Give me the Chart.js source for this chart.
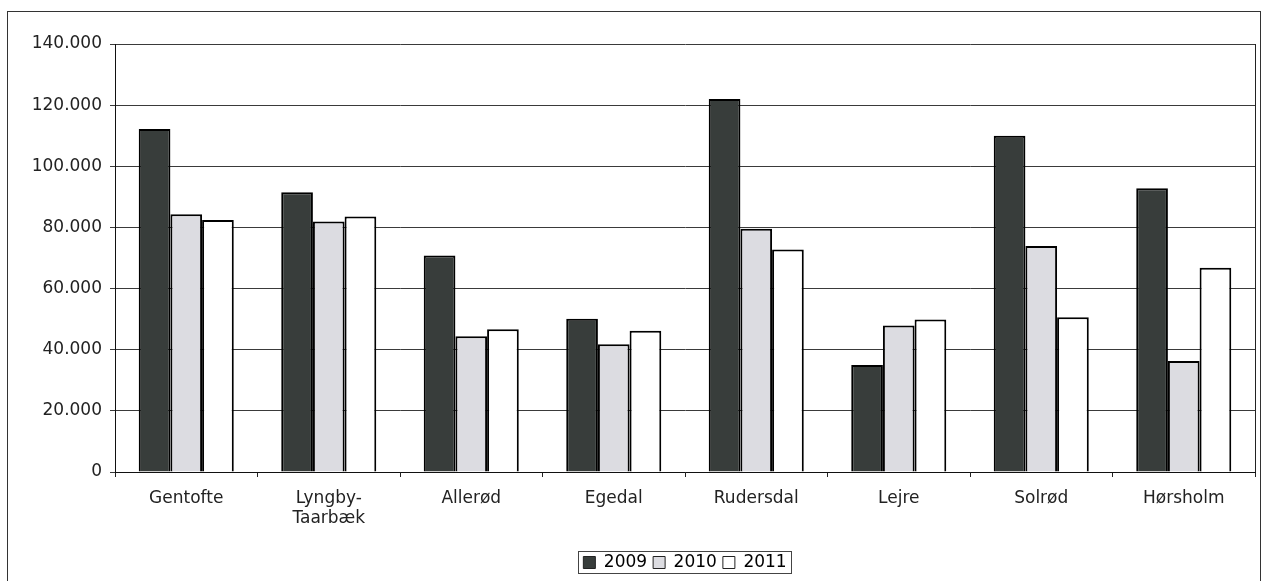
<!DOCTYPE html>
<html>
<head>
<meta charset="utf-8">
<script src="https://cdn.jsdelivr.net/npm/chart.js@4/dist/chart.umd.min.js"></script>
<style>
  html, body { margin: 0; padding: 0; background: #fff; }
  #wrap { width: 1267px; height: 581px; position: relative; }
</style>
</head>
<body>
<div id="wrap"><canvas id="chart"></canvas></div>
<script>
// kommuner og værdier
const kommuner = ['Gentofte', ['Lyngby-', 'Taarbæk'], 'Allerød', 'Egedal', 'Rudersdal', 'Lejre', 'Solrød', 'Hørsholm'];
const aar = ['2009', '2010', '2011'];
const v2009 = [112200, 91500, 70800, 50100, 122000, 35000, 110000, 92800];
const v2010 = [84300, 81900, 44400, 41800, 79600, 47900, 73900, 36300];
const v2011 = [82400, 83600, 46700, 46200, 72800, 49900, 50600, 66800];
const yTicks = [0, 20000, 40000, 60000, 80000, 100000, 120000, 140000];

const fonte = 'DejaVu Sans, Verdana, sans-serif';

function formatTal(v) {
  return String(v).replace(/\B(?=(\d{3})+(?!\d))/g, '.');
}

// ramme om hele figuren, kant om plotområdet og ramme om legenden
const rammer = {
  id: 'rammer',
  afterDraw(chart) {
    const ctx = chart.ctx, a = chart.chartArea, hb = chart.legend.legendHitBoxes;
    ctx.save();
    ctx.strokeStyle = '#333';
    ctx.lineWidth = 1;
    ctx.strokeRect(7.5, 11.5, 1253, 600);
    ctx.strokeStyle = '#222';
    ctx.beginPath();
    ctx.moveTo(a.right + 0.5, a.top);
    ctx.lineTo(a.right + 0.5, a.bottom);
    ctx.stroke();
    if (hb && hb.length) {
      const l = Math.min(...hb.map(h => h.left)) - 5;
      const r = Math.max(...hb.map(h => h.left + h.width)) + 5;
      const t = hb[0].top - 3, b = hb[0].top + hb[0].height + 2;
      ctx.strokeStyle = '#444';
      ctx.strokeRect(Math.round(l) + 0.5, Math.round(t) + 0.5, Math.round(r - l), Math.round(b - t));
    }
    ctx.restore();
  }
};

const ds = (label, data, farve) => ({
  label, data,
  backgroundColor: farve,
  borderColor: '#000',
  borderWidth: 2,
  borderSkipped: 'bottom',
  categoryPercentage: 0.667,
  barPercentage: 1.0
});

new Chart(document.getElementById('chart'), {
  type: 'bar',
  data: {
    labels: kommuner,
    datasets: [
      ds(aar[0], v2009, '#383d3b'),
      ds(aar[1], v2010, '#dcdce1'),
      ds(aar[2], v2011, '#ffffff')
    ]
  },
  options: {
    responsive: true,
    maintainAspectRatio: false,
    animation: false,
    layout: { padding: { left: 0, right: 12, top: 44, bottom: 0 } },
    plugins: {
      tooltip: { enabled: false },
      legend: {
        position: 'bottom',
        fullSize: false,
        labels: {
          color: '#111',
          font: { family: fonte, size: 17 },
          boxWidth: 12,
          boxHeight: 12,
          padding: 6,
          generateLabels(chart) {
            return chart.data.datasets.map((d, i) => ({
              text: d.label,
              fillStyle: d.backgroundColor,
              strokeStyle: '#222',
              lineWidth: 1,
              datasetIndex: i
            }));
          }
        }
      }
    },
    scales: {
      x: {
        afterFit(scale) { scale.height = 76; },
        grid: { display: true, drawOnChartArea: false, drawTicks: true, tickLength: 5, color: '#222', offset: true },
        border: { display: true, color: '#111', width: 1 },
        ticks: { color: '#222', font: { family: fonte, size: 17 }, padding: 11, maxRotation: 0, autoSkip: false }
      },
      y: {
        min: 0,
        max: 140000,
        afterFit(scale) { scale.width = 115; },
        afterBuildTicks(scale) { scale.ticks = yTicks.map(v => ({ value: v })); },
        grid: { color: '#3a3a3a', lineWidth: 1, tickLength: 5, drawTicks: true },
        border: { display: true, color: '#111', width: 1 },
        ticks: { color: '#222', font: { family: fonte, size: 17 }, padding: 8, callback: v => formatTal(v) }
      }
    }
  },
  plugins: [rammer]
});
</script>
</body>
</html>
